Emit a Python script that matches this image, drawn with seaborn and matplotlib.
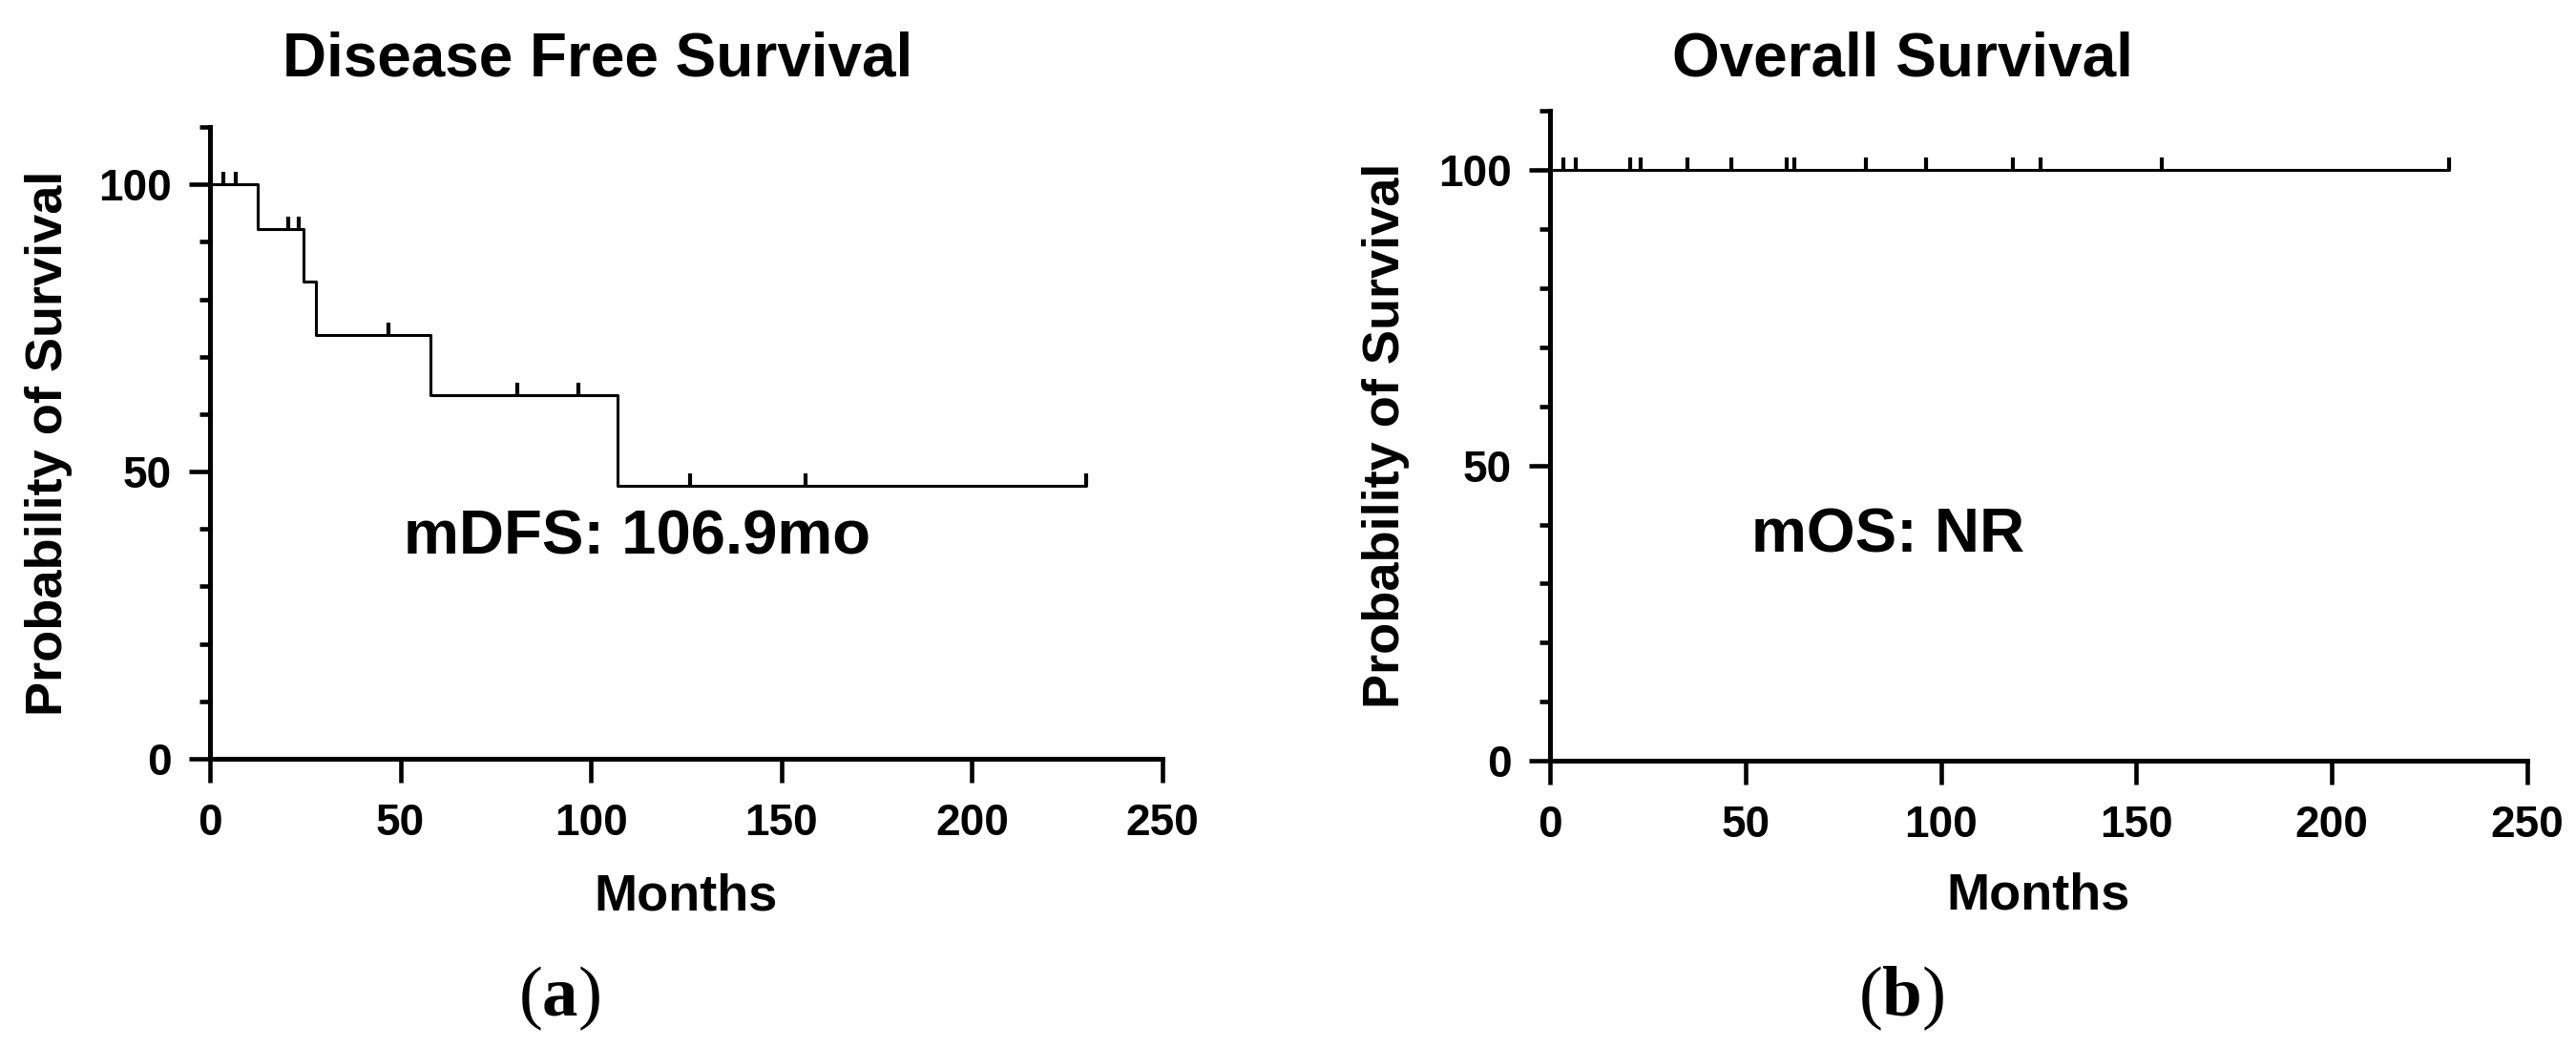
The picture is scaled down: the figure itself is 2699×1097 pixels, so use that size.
import numpy as np
import pandas as pd
import seaborn as sns
import matplotlib.pyplot as plt
from matplotlib.ticker import MultipleLocator

# -------- Data --------
dfs_time = [0, 12.5, 24.6, 27.8, 57.8, 106.9, 230]
dfs_surv = [100, 92.3, 83.1, 73.8, 63.3, 47.5, 47.5]
dfs_cens_time = [3.6, 6.7, 20.6, 23.4, 46.8, 80.6, 96.6, 125.9, 156.3, 230]
dfs_cens_surv = [100, 100, 92.3, 92.3, 73.8, 63.3, 63.3, 47.5, 47.5, 47.5]

os_time = [0, 230]
os_surv = [100, 100]
os_cens_time = [3.5, 6.5, 20.6, 23.2, 35.1, 46.5, 60.5, 62.5, 80.8, 96.3,
                118.3, 125.6, 156.5, 230]
os_cens_surv = [100] * len(os_cens_time)

x_ticks = [0, 50, 100, 150, 200, 250]
y_ticks = [0, 50, 100]

# -------- Style --------
sns.set_style("ticks")
plt.rcParams["font.family"] = ["Liberation Sans", "DejaVu Sans"]
plt.rcParams["font.weight"] = "bold"
plt.rcParams["mathtext.fontset"] = "custom"
plt.rcParams["mathtext.rm"] = "Liberation Serif"
plt.rcParams["mathtext.bf"] = "Liberation Serif:bold"
for key in ["text.color", "axes.labelcolor", "axes.edgecolor",
            "xtick.color", "ytick.color"]:
    plt.rcParams[key] = "black"

fig = plt.figure(figsize=(26.99, 10.97), dpi=100)
ax_a = fig.add_axes([0.08151, 0.27530, 0.36977, 0.60346])
ax_b = fig.add_axes([0.60171, 0.27347, 0.37940, 0.62042])

censor_marker = [(0, 0), (0, 1)]


def km_panel(ax, t, s, ct, cs, title_x, title, note, note_xy, lab_x, tag):
    df = pd.DataFrame({"Months": t, "Survival": s})
    sns.lineplot(data=df, x="Months", y="Survival", ax=ax, estimator=None,
                 drawstyle="steps-post", color="black", linewidth=2.2)
    ax.plot(ct, cs, linestyle="none", marker=censor_marker, markersize=19,
            markeredgewidth=3.0, color="black", clip_on=False)

    ax.set_xlim(0, 250)
    ax.set_ylim(0, 110)
    ax.set_xticks(x_ticks)
    ax.set_yticks(y_ticks)
    ax.yaxis.set_minor_locator(MultipleLocator(10))
    for side in ["top", "right"]:
        ax.spines[side].set_visible(False)
    for side in ["left", "bottom"]:
        ax.spines[side].set_linewidth(3.6)
        ax.spines[side].set_color("black")
    ax.tick_params(axis="x", which="major", length=18, width=3.3, pad=15,
                   labelsize=33, direction="out", colors="black")
    ax.tick_params(axis="y", which="major", length=16, width=3.3, pad=13,
                   labelsize=33, direction="out", colors="black")
    ax.tick_params(axis="y", which="minor", length=8, width=3.3,
                   direction="out", colors="black")
    for lab in ax.get_xticklabels() + ax.get_yticklabels():
        lab.set_fontweight("bold")

    ax.set_xlabel("Months", fontsize=39, fontweight="bold")
    ax.set_ylabel("Probability of Survival", fontsize=39, fontweight="bold")
    ax.yaxis.set_label_coords(lab_x, 0.5)
    ax.yaxis.label.set_va("center")

    ax.text(note_xy[0], note_xy[1], note, fontsize=47, fontweight="bold",
            ha="center", va="center")

    fig.text(title_x, 0.9271, title, fontsize=46, fontweight="bold",
             ha="center", va="baseline")
    fig.text(tag[0], 0.0465, r"($\mathbf{" + tag[1] + "}$)", fontsize=54,
             family="Liberation Serif", fontweight="normal",
             ha="center", va="center")


km_panel(ax_a, dfs_time, dfs_surv, dfs_cens_time, dfs_cens_surv,
         0.2319, "Disease Free Survival", "mDFS: 106.9mo", (112, 38.5),
         -0.169, (0.2171, "a"))
km_panel(ax_b, os_time, os_surv, os_cens_time, os_cens_surv,
         0.7384, "Overall Survival", "mOS: NR", (86.5, 38),
         -0.168, (0.738, "b"))

# Months label baseline near y=953 px
ax_a.xaxis.set_label_coords(0.5, -0.2387)
ax_a.xaxis.label.set_va("baseline")
ax_b.xaxis.set_label_coords(0.5, -0.229)
ax_b.xaxis.label.set_va("baseline")

fig.savefig("out.png", dpi=100, facecolor="white")
plt.close(fig)
